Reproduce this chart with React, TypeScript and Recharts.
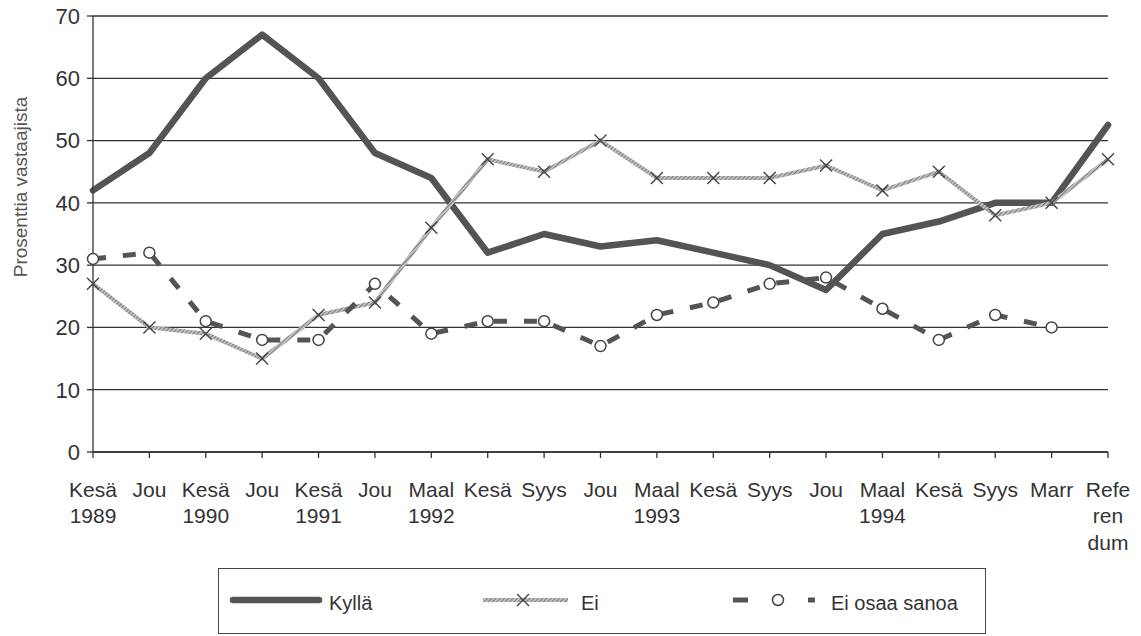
import { CartesianGrid, Line, LineChart, XAxis, YAxis } from "recharts"

const categories = [
  "Kesä\n1989", "Jou", "Kesä\n1990", "Jou", "Kesä\n1991", "Jou",
  "Maal\n1992", "Kesä", "Syys", "Jou", "Maal\n1993", "Kesä", "Syys", "Jou",
  "Maal\n1994", "Kesä", "Syys", "Marr", "Refe\nren\ndum",
]

const kylla = [42, 48, 60, 67, 60, 48, 44, 32, 35, 33, 34, 32, 30, 26, 35, 37, 40, 40, 52.5]
const ei = [27, 20, 19, 15, 22, 24, 36, 47, 45, 50, 44, 44, 44, 46, 42, 45, 38, 40, 47]
const eiOsaa = [31, 32, 21, 18, 18, 27, 19, 21, 21, 17, 22, 24, 27, 28, 23, 18, 22, 20, null]

const yTicks = [0, 10, 20, 30, 40, 50, 60, 70]

const data = categories.map((label, i) => ({
  label,
  kylla: kylla[i],
  ei: ei[i],
  eiOsaa: eiOsaa[i],
}))

const FONT = "'Liberation Sans', Arial, Helvetica, sans-serif"
const INK = "#333"

const XTick = ({ x, y, payload }: any) => {
  const lines = String(payload.value).split("\n")
  return (
    <text x={x} y={y} textAnchor="middle" fontSize={21} fill={INK} fontFamily={FONT}>
      {lines.map((l, i) => (
        <tspan key={i} x={x} dy={i === 0 ? "0.71em" : 26.5}>
          {l}
        </tspan>
      ))}
    </text>
  )
}

const CrossDot = (props: any) => {
  const { cx, cy, index } = props
  if (cx == null || cy == null) return <g key={index} />
  const s = 6
  return (
    <path
      key={index}
      d={`M${cx - s},${cy - s}L${cx + s},${cy + s}M${cx + s},${cy - s}L${cx - s},${cy + s}`}
      stroke="#444"
      strokeWidth={1.4}
      fill="none"
    />
  )
}

const RingDot = (props: any) => {
  const { cx, cy, index, value } = props
  if (cx == null || cy == null || value == null) return <g key={index} />
  return <circle key={index} cx={cx} cy={cy} r={5.5} fill="#fff" stroke="#444" strokeWidth={1.5} />
}

function ChartLegend() {
  return (
    <svg
      width={768}
      height={66}
      style={{ position: "absolute", left: 218, top: 568, border: "1.5px solid #444", boxSizing: "border-box" }}
    >
      <defs>
        <pattern id="hatchLegend" patternUnits="userSpaceOnUse" width={3} height={3} patternTransform="rotate(45)">
          <rect width={3} height={3} fill="#c8c8c8" />
          <rect width={1.2} height={3} fill="#7c7c7c" />
        </pattern>
      </defs>
      <line x1={14} y1={31} x2={100} y2={31} stroke="#545454" strokeWidth={6.5} strokeLinecap="round" />
      <text x={110} y={41} fontSize={20} fill={INK} fontFamily={FONT}>Kyllä</text>
      <line x1={264} y1={31} x2={349} y2={31} stroke="url(#hatchLegend)" strokeWidth={4} />
      <CrossDot cx={304} cy={31} index={0} />
      <text x={362} y={41} fontSize={20} fill={INK} fontFamily={FONT}>Ei</text>
      <line x1={514} y1={31} x2={529} y2={31} stroke="#545454" strokeWidth={5} />
      <RingDot cx={559} cy={31} index={0} value={1} />
      <line x1={589} y1={31} x2={596} y2={31} stroke="#545454" strokeWidth={5} />
      <text x={612} y={41} fontSize={20} fill={INK} fontFamily={FONT}>Ei osaa sanoa</text>
    </svg>
  )
}

export default function App() {
  return (
    <div style={{ position: "absolute", left: 0, top: 0, width: 1141, height: 636, background: "#fff" }}>
      <LineChart
        width={1141}
        height={636}
        data={data}
        margin={{ top: 16, right: 33, bottom: 74, left: 0 }}
      >
        <defs>
          <pattern id="hatch" patternUnits="userSpaceOnUse" width={3} height={3} patternTransform="rotate(45)">
            <rect width={3} height={3} fill="#c8c8c8" />
            <rect width={1.2} height={3} fill="#7c7c7c" />
          </pattern>
        </defs>
        <CartesianGrid vertical={false} stroke={INK} strokeWidth={1.3} />
        <XAxis
          dataKey="label"
          height={110}
          interval={0}
          tick={<XTick />}
          tickSize={6}
          tickMargin={24}
          axisLine={{ stroke: INK, strokeWidth: 1.3 }}
          tickLine={{ stroke: INK, strokeWidth: 1.3 }}
        />
        <YAxis
          width={93}
          domain={[0, 70]}
          ticks={yTicks}
          interval={0}
          tickSize={6}
          tickMargin={7}
          tick={{ fontSize: 22, fill: INK, fontFamily: FONT }}
          axisLine={{ stroke: INK, strokeWidth: 1.3 }}
          tickLine={{ stroke: INK, strokeWidth: 1.3 }}
        />
        <text
          x={20}
          y={187}
          transform="rotate(-90 20 187)"
          textAnchor="middle"
          dominantBaseline="central"
          fontSize={19}
          fill="#555"
          fontFamily={FONT}
        >
          Prosenttia vastaajista
        </text>
        <Line
          dataKey="kylla"
          stroke="#545454"
          strokeWidth={6.5}
          strokeLinejoin="round"
          strokeLinecap="round"
          dot={false}
          activeDot={false}
          isAnimationActive={false}
        />
        <Line
          dataKey="ei"
          stroke="url(#hatch)"
          strokeWidth={4}
          dot={CrossDot}
          activeDot={false}
          isAnimationActive={false}
        />
        <Line
          dataKey="eiOsaa"
          stroke="#545454"
          strokeWidth={5}
          strokeDasharray="13 17"
          dot={RingDot}
          activeDot={false}
          isAnimationActive={false}
        />
      </LineChart>
      <ChartLegend />
    </div>
  )
}
